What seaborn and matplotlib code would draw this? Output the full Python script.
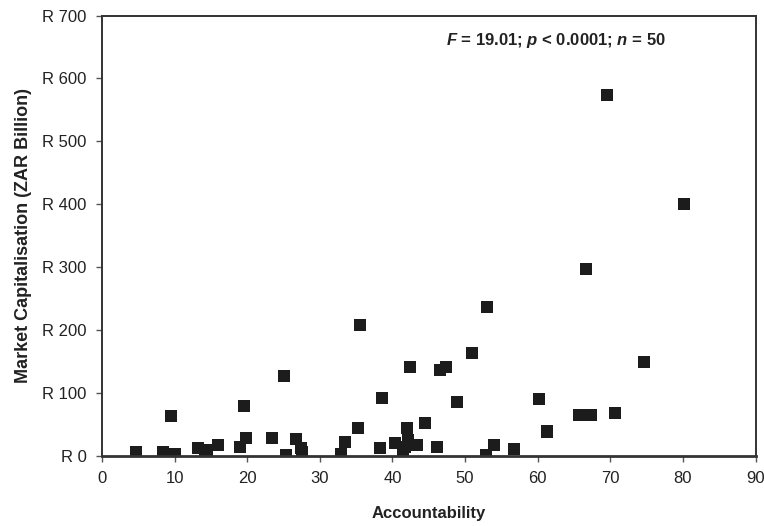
import matplotlib
matplotlib.use("Agg")
import matplotlib.pyplot as plt
import matplotlib.ticker as mticker
import seaborn as sns
import pandas as pd

# accountability score vs market cap (ZAR billion)
accountability = [
    4.7, 8.4, 9.5, 10.1, 13.2, 14.2, 14.4, 16.0, 19.0, 19.5,
    19.8, 23.4, 25.1, 25.4, 26.7, 27.4, 27.6, 32.9, 33.5, 35.2,
    35.5, 38.3, 38.5, 40.4, 41.4, 41.5, 41.7, 42.0, 42.2, 42.4,
    43.4, 44.5, 46.1, 46.6, 47.4, 48.9, 51.0, 53.0, 52.9, 54.0,
    56.7, 60.2, 61.3, 65.7, 66.7, 67.4, 69.6, 70.6, 74.7, 80.2,
]
market_cap = [
    7, 6, 63, 3, 13, 6, 9, 17.5, 15, 80,
    28, 29, 127, 2, 27, 13, 6, 3, 22, 44,
    208, 13, 92, 20, 12, 4, 15, 44, 25, 142,
    18, 52, 15, 137, 142, 86, 163, 237, 1, 17.5,
    11, 90, 39, 65, 297, 65, 574, 68, 150, 400,
]
stats_text = r"$F$ = 19.01; $p$ < 0.0001; $n$ = 50"

df = pd.DataFrame({"Accountability": accountability, "MarketCap": market_cap})

sns.set_style("ticks")
plt.rcParams["font.family"] = ["Liberation Sans", "DejaVu Sans"]
plt.rcParams["mathtext.fontset"] = "custom"
plt.rcParams["mathtext.rm"] = "Liberation Sans:bold"
plt.rcParams["mathtext.it"] = "Liberation Sans:bold:italic"

fig = plt.figure(figsize=(7.64, 5.26), dpi=100)
ax = fig.add_axes([0.1335, 0.133, 0.8555, 0.8375])

sns.scatterplot(data=df, x="Accountability", y="MarketCap", ax=ax,
                marker="s", s=75, color="#1c1c1c", edgecolor="none")

ax.set_xlim(0, 90)
ax.set_ylim(0, 700)
ax.set_xticks(range(0, 91, 10))
ax.set_yticks(range(0, 701, 100))
ax.yaxis.set_major_formatter(mticker.FuncFormatter(lambda v, _: f"R {int(v)}"))

for side in ["left", "right", "top", "bottom"]:
    ax.spines[side].set_visible(True)
    ax.spines[side].set_color("#333333")
    ax.spines[side].set_linewidth(1.4)
ax.spines["bottom"].set_linewidth(2.0)

ax.tick_params(axis="both", direction="out", length=4, width=1,
               color="#555555", labelsize=12, labelcolor="#222222", pad=7)

ax.set_xlabel("Accountability", fontsize=12, fontweight="bold",
              color="#222222", labelpad=14)
ax.set_ylabel("Market Capitalisation (ZAR Billion)", fontsize=13,
              fontweight="bold", color="#222222", labelpad=7)

ax.text(62.5, 661, stats_text, ha="center", va="center",
        fontsize=12, fontweight="bold", color="#222222")

fig.savefig("out.png", dpi=100)
